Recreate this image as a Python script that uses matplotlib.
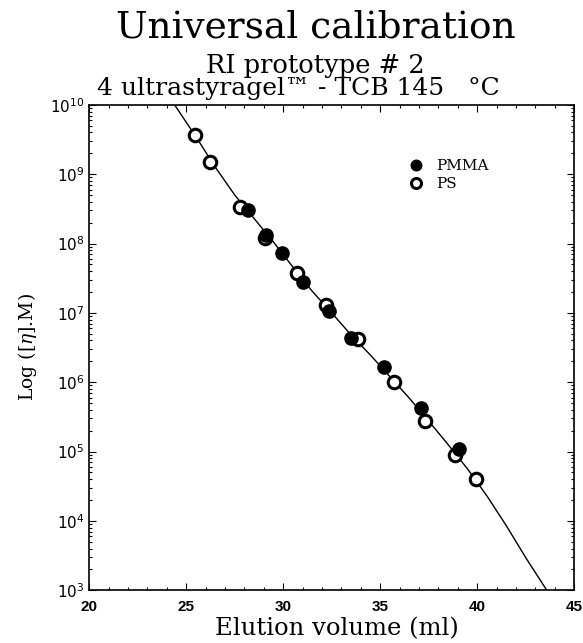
import numpy as np
import matplotlib
matplotlib.use('Agg')
import matplotlib.pyplot as plt
from matplotlib.ticker import FixedLocator, NullFormatter, LogFormatterSciNotation

# donnees
ps_vol = [25.44, 26.25, 27.77, 29.05, 30.71, 32.19, 33.87, 35.69, 37.32, 38.85, 39.96]
ps_etam = [3.72e9, 1.48e9, 3.39e8, 1.2e8, 3.8e7, 1.29e7, 4.17e6, 1.0e6, 2.75e5, 8.9e4, 3.98e4]

pmma_vol = [28.18, 29.11, 29.95, 31.02, 32.34, 33.51, 35.19, 37.08, 39.06]
pmma_etam = [3.0e8, 1.32e8, 7.2e7, 2.8e7, 1.07e7, 4.4e6, 1.66e6, 4.3e5, 1.1e5]

# courbe de calibration (log10), lue point par point
cal_vol = [24.4, 25.5, 26.5, 27.5, 28.5, 29.5, 30.5, 31.5, 32.5, 33.5,
           34.5, 35.5, 36.5, 37.5, 38.5, 39.5, 40.5, 41.5, 42.5, 43.7]
cal_log = [10.0, 9.54, 9.10, 8.70, 8.36, 8.02, 7.66, 7.31, 7.00, 6.68,
           6.39, 6.08, 5.77, 5.44, 5.10, 4.75, 4.36, 3.93, 3.47, 2.95]

xticks = [20, 25, 30, 35, 40, 45]
decades = [3, 4, 5, 6, 7, 8, 9, 10]

plt.rcParams['mathtext.fontset'] = 'dejavuserif'

fig = plt.figure(figsize=(5.83, 6.43), dpi=100)
ax = fig.add_axes([0.153, 0.082, 0.832, 0.755])

ax.plot(cal_vol, 10 ** np.array(cal_log), color='black', lw=1.0, zorder=2)
ax.plot(ps_vol, ps_etam, 'o', mfc='white', mec='black', mew=2.2, ms=9, zorder=3, label='PS')
ax.plot(pmma_vol, pmma_etam, 'o', mfc='black', mec='black', ms=9.5, zorder=4, label='PMMA')

ax.set_yscale('log')
ax.set_xlim(20, 45)
ax.set_ylim(1e3, 1e10)
ax.xaxis.set_major_locator(FixedLocator(xticks))
ax.xaxis.set_minor_locator(FixedLocator(np.arange(20, 46, 1)))
ax.xaxis.set_minor_formatter(NullFormatter())
ax.yaxis.set_major_locator(FixedLocator([10.0 ** d for d in decades]))
ax.yaxis.set_major_formatter(LogFormatterSciNotation())
ax.yaxis.set_minor_locator(FixedLocator([k * 10.0 ** d for d in decades[:-1] for k in range(2, 10)]))
ax.yaxis.set_minor_formatter(NullFormatter())

ax.tick_params(which='both', direction='in', top=True, right=True, width=0.8)
ax.tick_params(which='major', length=5)
ax.tick_params(which='minor', length=2.5)
ax.tick_params(axis='x', pad=7)
for lab in ax.get_xticklabels():
    lab.set_fontfamily('Liberation Sans')
    lab.set_fontweight('bold')
    lab.set_fontsize(11)
for lab in ax.get_yticklabels():
    lab.set_fontsize(11)
for s in ax.spines.values():
    s.set_linewidth(1.2)

h, l = ax.get_legend_handles_labels()
leg = ax.legend(h[::-1], l[::-1], loc='center left', bbox_to_anchor=(0.63, 0.855),
                frameon=False, handlelength=1.0, handletextpad=0.8, labelspacing=0.25,
                prop={'family': 'DejaVu Serif', 'size': 11}, markerscale=0.8)

ax.set_ylabel('Log ([$\\eta$].M)', family='DejaVu Serif', fontsize=13.5, labelpad=8)

fig.text(0.577, 0.004, 'Elution volume (ml)', ha='center', va='bottom',
         family='DejaVu Serif', fontsize=17.5)
fig.text(0.542, 0.957, 'Universal calibration', ha='center', va='center',
         family='DejaVu Serif', fontsize=27)
fig.text(0.54, 0.898, 'RI prototype # 2', ha='center', va='center',
         family='DejaVu Serif', fontsize=18.5)
fig.text(0.511, 0.862, '4 ultrastyragel™ - TCB 145   °C', ha='center', va='center',
         family='DejaVu Serif', fontsize=18)

fig.savefig('out.png', dpi=100)
